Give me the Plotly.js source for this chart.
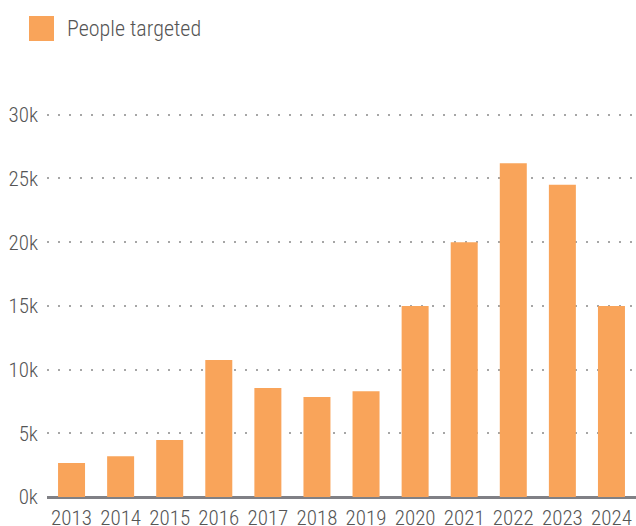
<!DOCTYPE html>
<html>
<head>
<meta charset="utf-8">
<script src="https://cdn.plot.ly/plotly-3.0.1.min.js"></script>
<style>html,body{margin:0;padding:0;background:#fff}#chart{width:636px;height:526px}</style>
</head>
<body>
<div id="chart"></div>
<script>
const years = ["2013","2014","2015","2016","2017","2018","2019","2020","2021","2022","2023","2024"];
const peopleTargeted = [2670, 3200, 4470, 10750, 8560, 7850, 8300, 15000, 20000, 26200, 24500, 15000];
const seriesName = "People targeted";
const yTickVals = [0, 5000, 10000, 15000, 20000, 25000, 30000];
const yTickText = ["0k", "5k", "10k", "15k", "20k", "25k", "30k"];

const barColor = "#F9A45A";
const textColor = "#555555";
const fam = "'Roboto Condensed', 'Roboto', sans-serif";

const trace = {
  type: "bar",
  x: years,
  y: peopleTargeted,
  name: seriesName,
  marker: {color: barColor},
  hoverinfo: "x+y",
  showlegend: false
};

const layout = {
  width: 636, height: 526,
  margin: {l: 47, r: 0, t: 100, b: 29, pad: 0},
  paper_bgcolor: "#fff", plot_bgcolor: "#fff",
  font: {family: fam, size: 21, color: textColor, weight: 300},
  bargap: 0.45,
  showlegend: false,
  xaxis: {
    type: "category",
    showgrid: false, zeroline: false, showline: false,
    ticks: "", tickfont: {size: 21, color: textColor, family: fam, weight: 300},
    ticklabelstandoff: 6,
    fixedrange: true
  },
  yaxis: {
    range: [0, 31160],
    tickvals: yTickVals, ticktext: yTickText,
    showgrid: true, gridcolor: "#a6a6a6", gridwidth: 2, griddash: "2px,9px",
    zeroline: true, zerolinecolor: "#808085", zerolinewidth: 3,
    showline: false, ticks: "",
    tickfont: {size: 21, color: textColor, family: fam, weight: 300},
    ticklabelstandoff: 8,
    fixedrange: true
  },
  shapes: [{
    type: "rect", xref: "paper", yref: "paper",
    x0: (29-47)/589, x1: (54-47)/589,
    y0: (526-29-41)/397, y1: (526-29-16)/397,
    fillcolor: barColor, line: {width: 0}
  }],
  annotations: [{
    xref: "paper", yref: "paper",
    x: (65-47)/589, y: (526-29-28)/397,
    xanchor: "left", yanchor: "middle",
    text: seriesName, showarrow: false,
    font: {size: 22, color: textColor, family: fam, weight: 300}
  }]
};

Plotly.newPlot("chart", [trace], layout, {displayModeBar: false, staticPlot: true});
</script>
</body>
</html>
